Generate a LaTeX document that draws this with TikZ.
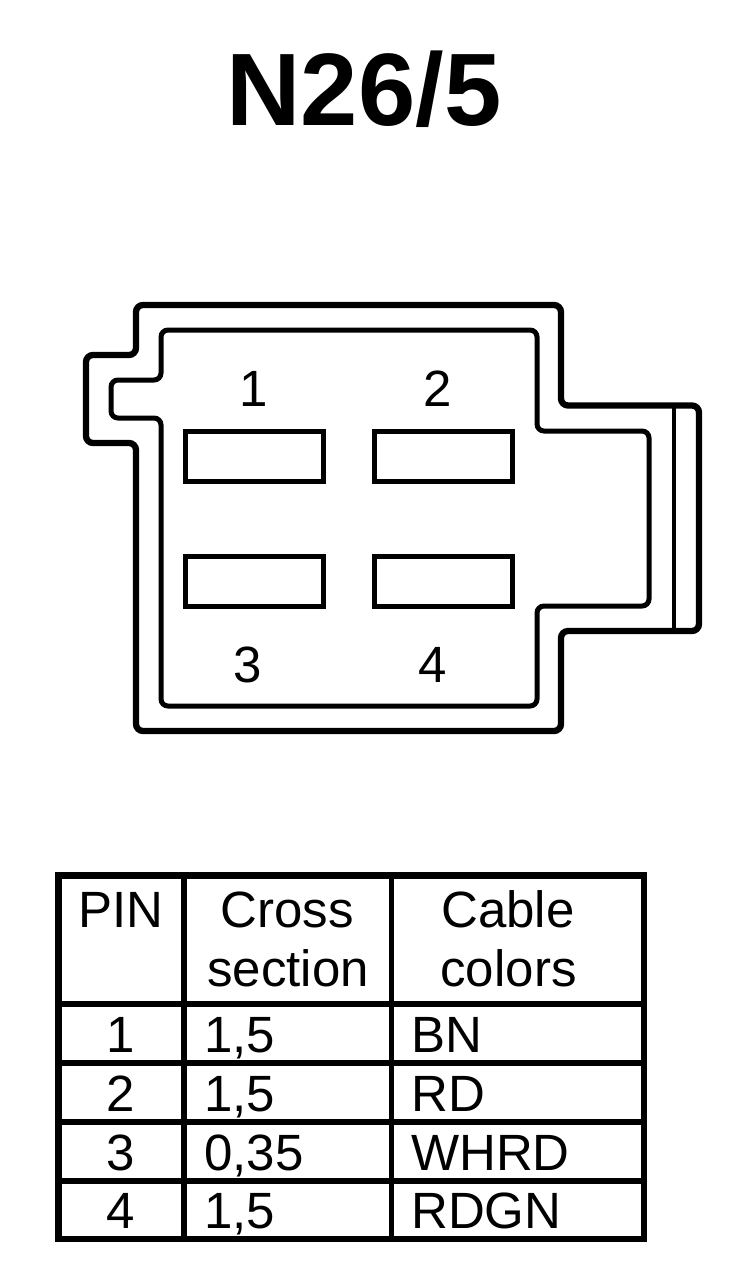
\documentclass[tikz,border=0pt]{standalone}
\usepackage{fontspec}
\setmainfont{Liberation Sans}

\tikzset{
	thick line/.style={line width=6.3pt,rounded corners=7pt},
	thin line/.style={line width=5pt,rounded corners=7pt},
	contact/.style={line width=5pt},
	grid line/.style={line width=5.3pt},
	label text/.style={inner sep=0pt,anchor=base,font=\fontsize{51}{51}\selectfont},
	cell text/.style={inner sep=0pt,anchor=base west,font=\fontsize{51}{51}\selectfont}
}

\begin{document}
\begin{tikzpicture}[x=1pt,y=-1pt]
	\useasboundingbox (0,0) rectangle (736,1266);
	%TITRE
	\node[inner sep=0pt,anchor=base,font=\fontsize{103}{103}\selectfont\bfseries] (title) at (364,125) {N26/5};

	%BOITIER
	\draw[thick line] (136,355) -- (136,305) -- (561,305) -- (561,405.5) -- (699,405.5) -- (699,631) -- (561,631) -- (561,731) -- (136,731) -- (136,443) -- (86,443) -- (86,355) -- cycle;
	\draw[thin line] (161,380) -- (161,330) -- (537,330) -- (537,431) -- (649,431) -- (649,606) -- (537,606) -- (537,706) -- (161,706) -- (161,418) -- (111,418) -- (111,380) -- cycle;
	\coordinate (ribtop) at (674,405.5);
	\coordinate (ribbottom) at (674,631);
	\draw[line width=4.5pt] (ribtop) -- (ribbottom);

	%CONTACTS
	\draw[contact] (185.5,431.5) rectangle (323.5,481);
	\draw[contact] (374.5,431.5) rectangle (512,481);
	\draw[contact] (185.5,556.5) rectangle (323.5,606);
	\draw[contact] (374.5,556.5) rectangle (512,606);
	\node[label text] (pinone) at (254,406) {1};
	\node[label text] (pintwo) at (438,406) {2};
	\node[label text] (pinthree) at (247.5,682) {3};
	\node[label text] (pinfour) at (432.5,682) {4};

	%TABLEAU
	\draw[line width=6.5pt] (58.5,875.5) rectangle (644,1239);
	\draw[grid line] (184,875) -- (184,1239);
	\draw[grid line] (391.5,875) -- (391.5,1239);
	\foreach \y in {1004,1063,1122,1181}
		\draw[grid line] (58,\y) -- (644,\y);

	\node[label text] (pin) at (121,927) {PIN};
	\node[label text] (cross) at (287,927) {Cross};
	\node[label text] (section) at (288,986) {section};
	\node[label text] (cable) at (508,927) {Cable};
	\node[label text] (colors) at (508.5,986) {colors};

	\foreach \y/\n/\s/\c in {1052/1/{1,5}/BN,1111/2/{1,5}/RD,1170/3/{0,35}/WHRD,1228/4/{1,5}/RDGN}{
		\node[label text] (pin\n) at (121,\y) {\n};
		\node[cell text] (section\n) at (204,\y) {\s};
		\node[cell text] (color\n) at (411,\y) {\c};
	}
\end{tikzpicture}
\end{document}
